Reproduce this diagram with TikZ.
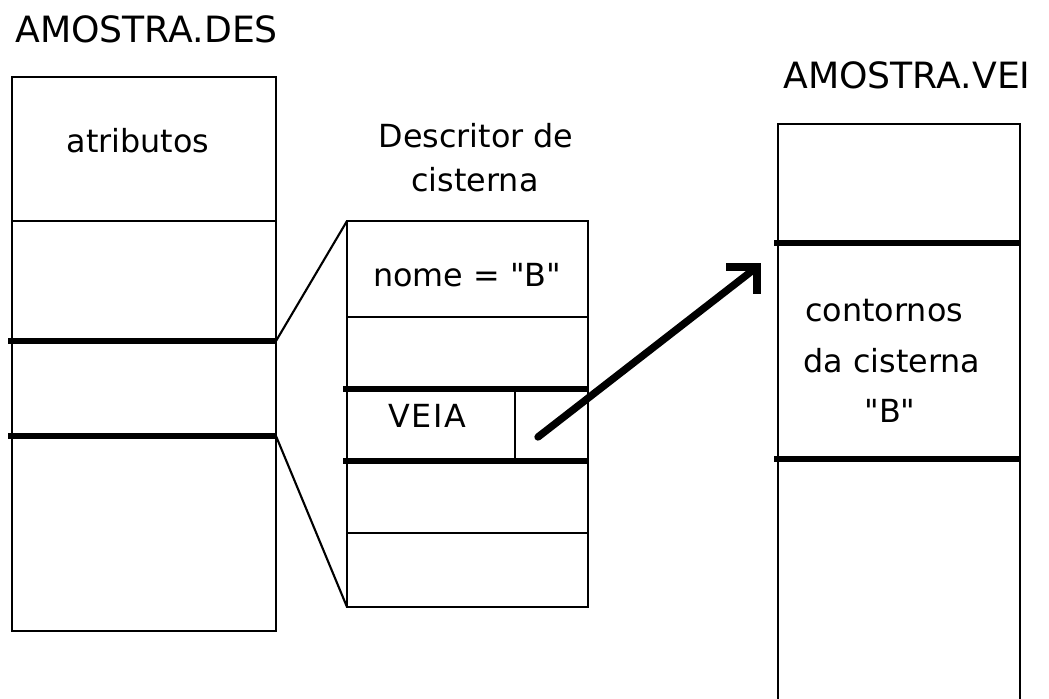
\documentclass[tikz,border=0pt]{standalone}
\usepackage{fontspec}
\setmainfont{DejaVu Sans}
\newfontfamily\dvplain{DejaVu Sans}
\begin{document}
\begin{tikzpicture}[x=0.02cm,y=-0.02cm,
  thinline/.style={line width=1.2pt},
  thickline/.style={line width=2.9pt},
  bodytext/.style={font=\dvplain\fontsize{18.1}{22}\selectfont, inner sep=0pt},
  titletext/.style={font=\dvplain\fontsize{20.6}{24}\selectfont, inner sep=0pt},
  pointer/.style={line width=4.2pt, line cap=round, line join=miter}]
\useasboundingbox (0,0) rectangle (1049,699);
\clip (0,0) rectangle (1049,699);
% titles
\node[titletext, anchor=base west] (tdes) at (15,43) {AMOSTRA.DES};
\node[titletext, anchor=base west] (tvei) at (783,89) {AMOSTRA.VEI};
% left file box
\coordinate (dTL) at (12,77);
\coordinate (dBR) at (276,631);
\draw[thinline] (dTL) rectangle (dBR);
\draw[thinline] (12,221) -- (276,221);
\draw[thickline] (8,341) -- (276,341) coordinate (d1r);
\draw[thickline] (8,436) -- (276,436) coordinate (d2r);
\node[bodytext, anchor=base] (attr) at (138,153) {atributos};
% middle descriptor box
\node[bodytext, anchor=base] (desc1) at (476,148) {Descritor de};
\node[bodytext, anchor=base] (desc2) at (475,192) {cisterna};
\coordinate (mTL) at (347,221);
\coordinate (mBR) at (588,607);
\coordinate (mBL) at (347,607);
\draw[thinline] (mTL) rectangle (mBR);
\draw[thinline] (347,317) -- (588,317);
\draw[thickline] (343,389) -- (588,389);
\draw[thickline] (343,461) -- (588,461);
\draw[thinline] (347,533) -- (588,533);
\draw[thinline] (515,389) -- (515,461);
\node[bodytext, anchor=base west] (nome) at (373,287) {nome = "B"};
\node[bodytext, anchor=base west] (veia) at (388,428) {V\kern1pt E\kern1pt I\kern1pt A};
% zoom lines
\draw[thinline] (d1r) -- (mTL);
\draw[thinline] (d2r) -- (mBL);
% right file box
\draw[thinline] (778,760) -- (778,124) -- (1020,124) -- (1020,760);
\draw[thickline] (774,243) -- (1020,243);
\draw[thickline] (774,459) -- (1020,459);
\node[bodytext, anchor=base west] (cont1) at (805,322) {contornos};
\node[bodytext, anchor=base west] (cont2) at (803,373) {da cisterna};
\node[bodytext, anchor=base] (cont3) at (890,422) {"B"};
% pointer arrow
\coordinate (pstart) at (538,437);
\coordinate (ptip) at (757,267);
\draw[pointer] (pstart) -- (ptip);
\draw[pointer, line cap=butt] (726,267) -- (ptip) -- (757,294);
\end{tikzpicture}
\end{document}
